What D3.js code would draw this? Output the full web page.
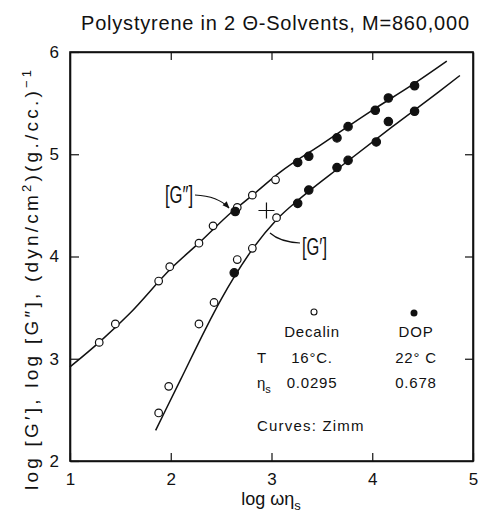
<!DOCTYPE html>
<html>
<head>
<meta charset="utf-8">
<script src="https://cdn.jsdelivr.net/npm/d3@7"></script>
<style>
  body { margin: 0; background: #fff; }
  svg text { font-family: "Liberation Sans", Arial, sans-serif; fill: #111; }
</style>
</head>
<body>
<script>
// G'' points (upper curve), log omega*eta_s vs log [G'']
var gppDecalinX = [1.29, 1.45, 1.88, 1.99, 2.28, 2.42, 2.66, 2.81, 3.04];
var gppDecalinY = [3.16, 3.34, 3.76, 3.90, 4.13, 4.30, 4.48, 4.60, 4.75];
var gppDopX = [2.64, 3.26, 3.37, 3.65, 3.76, 4.03, 4.16, 4.42];
var gppDopY = [4.44, 4.92, 4.98, 5.16, 5.27, 5.43, 5.55, 5.67];

// G' points (lower curve)
var gpDecalinX = [1.88, 1.98, 2.28, 2.43, 2.66, 2.81, 3.05];
var gpDecalinY = [2.47, 2.73, 3.34, 3.55, 3.97, 4.08, 4.38];
var gpDopX = [2.63, 3.26, 3.37, 3.65, 3.76, 4.04, 4.16, 4.42];
var gpDopY = [3.84, 4.52, 4.65, 4.87, 4.94, 5.12, 5.32, 5.42];

// Zimm curves
var zimmGppX = [1.0, 1.3, 1.6, 2.0, 2.3, 2.6, 2.8, 3.08, 3.5, 4.0, 4.4, 4.74];
var zimmGppY = [2.92, 3.17, 3.45, 3.88, 4.15, 4.43, 4.59, 4.82, 5.10, 5.43, 5.68, 5.91];
var zimmGpX = [1.85, 2.1, 2.35, 2.5, 2.63, 2.81, 3.05, 3.3, 3.7, 4.2, 4.66, 4.87];
var zimmGpY = [2.30, 2.80, 3.30, 3.58, 3.80, 4.07, 4.36, 4.58, 4.89, 5.27, 5.61, 5.77];

var xTicks = [1, 2, 3, 4, 5];
var yTicks = [2, 3, 4, 5, 6];
var crossPoint = [2.95, 4.45];

var zip = function (xs, ys) {
  return xs.map(function (v, i) { return [v, ys[i]]; });
}

var W = 481, H = 515;
var m = {l: 70, r: 473, t: 52, b: 461};

var x = d3.scaleLinear().domain([1, 5]).range([m.l, m.r]);
var y = d3.scaleLinear().domain([2, 6]).range([m.b, m.t]);

var svg = d3.select("body").append("svg")
  .attr("width", W)
  .attr("height", H);

// title
svg.append("text")
  .attr("x", 81).attr("y", 30)
  .attr("textLength", 388)
  .style("font-size", "20px")
  .text("Polystyrene in 2 Θ-Solvents, M=860,000");

// frame
svg.append("rect")
  .attr("x", m.l).attr("y", m.t)
  .attr("width", m.r - m.l).attr("height", m.b - m.t)
  .attr("fill", "none").attr("stroke", "#111").attr("stroke-width", 1.6);

// axes with inward ticks
svg.append("g").attr("transform", "translate(0," + m.b + ")")
  .call(d3.axisBottom(x).tickValues(xTicks).tickSize(-8).tickSizeOuter(0).tickPadding(12).tickFormat(d3.format("d")));
svg.append("g").attr("transform", "translate(" + m.l + ",0)")
  .call(d3.axisLeft(y).tickValues(yTicks).tickSize(-9).tickSizeOuter(0).tickPadding(11).tickFormat(d3.format("d")));
svg.append("g").attr("transform", "translate(0," + m.t + ")")
  .call(d3.axisTop(x).tickValues([2, 3, 4]).tickSize(-8).tickSizeOuter(0).tickFormat(""));
svg.append("g").attr("transform", "translate(" + m.r + ",0)")
  .call(d3.axisRight(y).tickValues([3, 4, 5]).tickSize(-8).tickSizeOuter(0).tickFormat(""));

svg.selectAll(".domain").attr("stroke", "#111").attr("stroke-width", 1.6);
svg.selectAll(".tick line").attr("stroke", "#111").attr("stroke-width", 1.2);
svg.selectAll(".tick text").style("font-size", "17px").style("font-family", "Liberation Sans, Arial, sans-serif").attr("fill", "#111");

// Zimm curves
var line = d3.line()
  .x(function (d) { return x(d[0]); })
  .y(function (d) { return y(d[1]); })
  .curve(d3.curveMonotoneX);

svg.append("path").datum(zip(zimmGppX, zimmGppY))
  .attr("d", line).attr("fill", "none").attr("stroke", "#111").attr("stroke-width", 1.5);
svg.append("path").datum(zip(zimmGpX, zimmGpY))
  .attr("d", line).attr("fill", "none").attr("stroke", "#111").attr("stroke-width", 1.5);

// points
var drawPoints = function (pts, filled) {
  svg.append("g").selectAll("circle")
    .data(pts)
    .enter().append("circle")
    .attr("cx", function (d) { return x(d[0]); })
    .attr("cy", function (d) { return y(d[1]); })
    .attr("r", filled ? 4.2 : 3.8)
    .attr("fill", filled ? "#111" : "#fff")
    .attr("stroke", "#111")
    .attr("stroke-width", 1.2);
}
drawPoints(zip(gppDecalinX, gppDecalinY), false);
drawPoints(zip(gpDecalinX, gpDecalinY), false);
drawPoints(zip(gppDopX, gppDopY), true);
drawPoints(zip(gpDopX, gpDopY), true);

// cross marker
var cx = x(crossPoint[0]), cy = y(crossPoint[1]);
svg.append("path")
  .attr("d", "M" + (cx - 8) + "," + cy + "H" + (cx + 8) + "M" + cx + "," + (cy - 8) + "V" + (cy + 8))
  .attr("stroke", "#111").attr("stroke-width", 1.2);

// curve labels
svg.append("text")
  .attr("x", 165).attr("y", 203)
  .attr("textLength", 28).attr("lengthAdjust", "spacingAndGlyphs")
  .style("font-size", "23px")
  .text("[G″]");
svg.append("defs").append("marker")
  .attr("id", "arr").attr("viewBox", "0 0 10 10")
  .attr("refX", 9).attr("refY", 5)
  .attr("markerWidth", 6).attr("markerHeight", 6)
  .attr("orient", "auto")
  .append("path").attr("d", "M0,1L10,5L0,9z").attr("fill", "#111");
svg.append("path")
  .attr("d", "M195,195 Q218,196 229,208")
  .attr("fill", "none").attr("stroke", "#111").attr("stroke-width", 1.2)
  .attr("marker-end", "url(#arr)");

svg.append("text")
  .attr("x", 302).attr("y", 255)
  .attr("textLength", 25).attr("lengthAdjust", "spacingAndGlyphs")
  .style("font-size", "23px")
  .text("[G′]");
svg.append("path")
  .attr("d", "M300,243 Q280,242 270,233")
  .attr("fill", "none").attr("stroke", "#111").attr("stroke-width", 1.2);

// legend block
svg.append("circle").attr("cx", 314).attr("cy", 312).attr("r", 3)
  .attr("fill", "#fff").attr("stroke", "#111").attr("stroke-width", 1.1);
svg.append("circle").attr("cx", 414).attr("cy", 313).attr("r", 3.5)
  .attr("fill", "#111");

var legendRows = [
  ["", "Decalin", "DOP", 337],
  ["T", "16°C.", "22° C", 363],
  ["η", "0.0295", "0.678", 388]
];
legendRows.forEach(function (r) {
  if (r[0]) {
    var t = svg.append("text").attr("x", 257).attr("y", r[3]).style("font-size", "15px").text(r[0]);
    if (r[0] === "η") t.append("tspan").attr("dy", 5).style("font-size", "11px").text("s");
  }
  svg.append("text").attr("x", 312).attr("y", r[3]).attr("text-anchor", "middle")
    .style("font-size", "15px").style("letter-spacing", "0.8px").text(r[1]);
  svg.append("text").attr("x", 416).attr("y", r[3]).attr("text-anchor", "middle")
    .style("font-size", "15px").style("letter-spacing", "0.8px").text(r[2]);
});
svg.append("text").attr("x", 257).attr("y", 431)
  .style("font-size", "15px").style("letter-spacing", "1.2px").text("Curves:  Zimm");

// axis titles
var xl = svg.append("text")
  .attr("x", 271).attr("y", 505).attr("text-anchor", "middle")
  .style("font-size", "18px");
xl.append("tspan").text("log  ωη");
xl.append("tspan").attr("dy", 5).style("font-size", "13px").text("s");

var yl = svg.append("text")
  .attr("transform", "translate(38,490) rotate(-90)")
  .attr("textLength", 420)
  .attr("lengthAdjust", "spacing")
  .style("font-size", "19px");
yl.append("tspan").text("log  [G′],   log  [G″],   (dyn/cm");
yl.append("tspan").attr("dy", -7).style("font-size", "13px").text("2");
yl.append("tspan").attr("dy", 7).text(")(g./cc.)");
yl.append("tspan").attr("dy", -7).style("font-size", "13px").text("−1");
</script>
</body>
</html>
